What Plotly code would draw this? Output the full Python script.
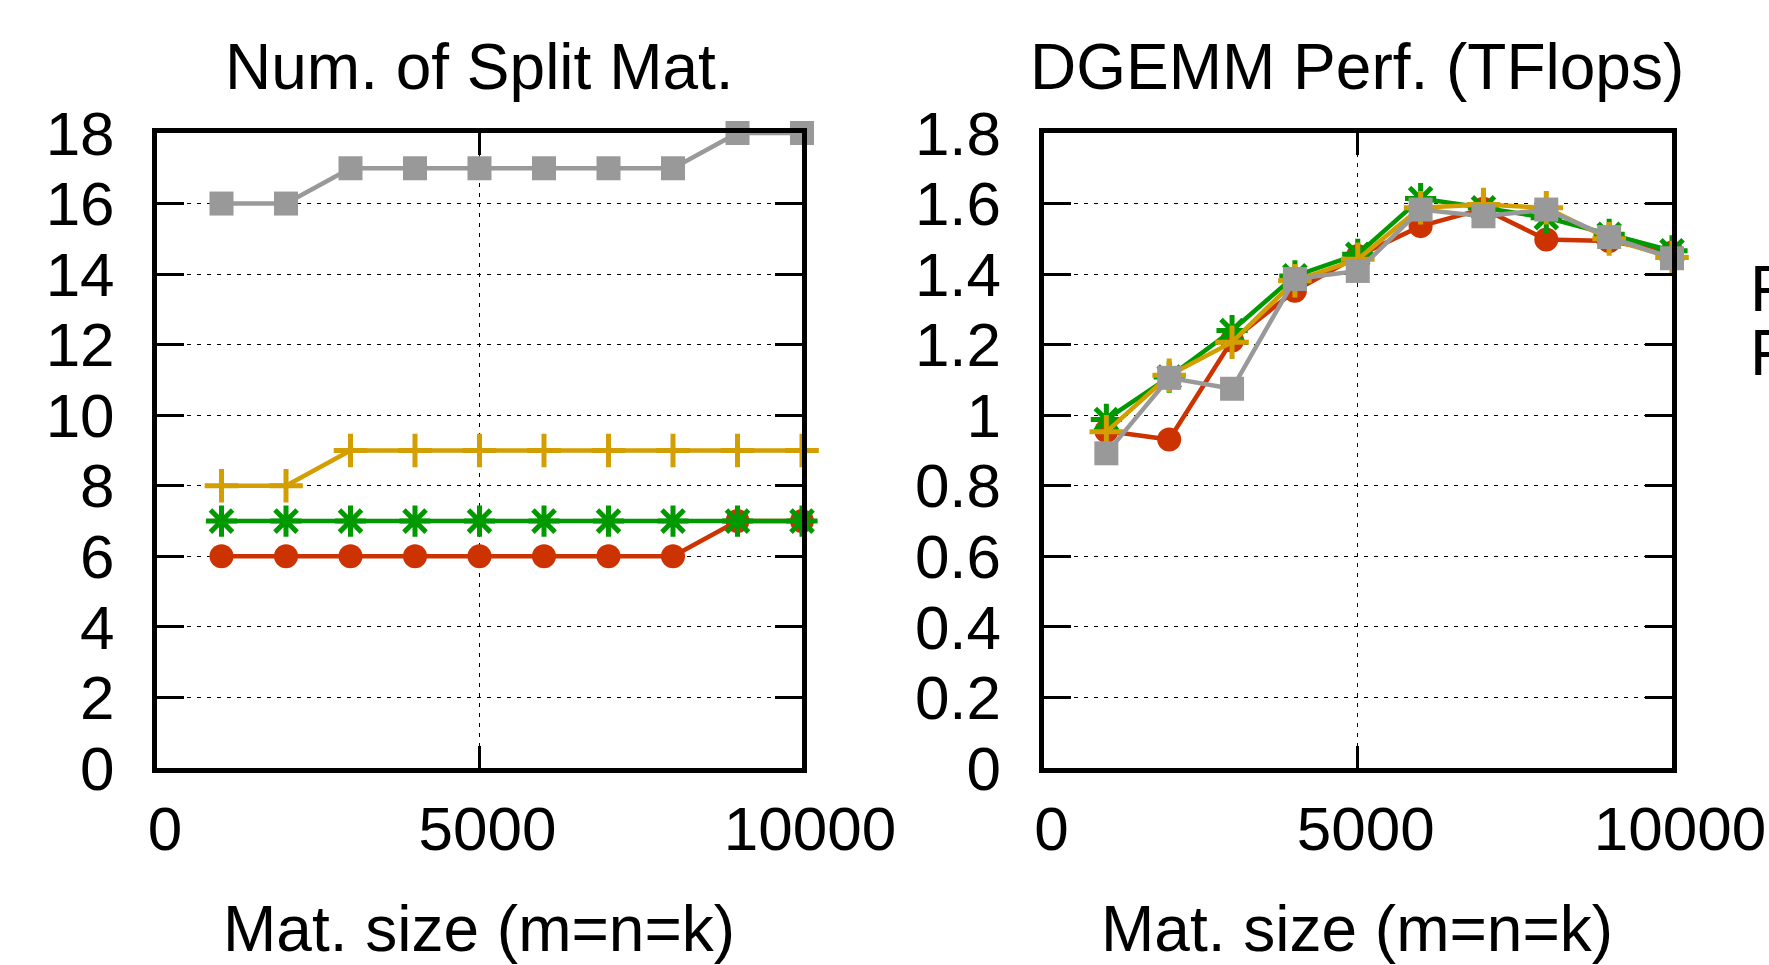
import plotly.graph_objects as go

sizes = [1000, 2000, 3000, 4000, 5000, 6000, 7000, 8000, 9000, 10000]

# Left panel: number of split matrices
split_red = [6, 6, 6, 6, 6, 6, 6, 6, 7, 7]
split_green = [7, 7, 7, 7, 7, 7, 7, 7, 7, 7]
split_yellow = [8, 8, 9, 9, 9, 9, 9, 9, 9, 9]
split_gray = [16, 16, 17, 17, 17, 17, 17, 17, 18, 18]

# Right panel: DGEMM performance (TFlops)
perf_red = [0.955, 0.931, 1.212, 1.353, 1.451, 1.536, 1.585, 1.498, 1.494, 1.461]
perf_green = [0.988, 1.108, 1.240, 1.395, 1.456, 1.614, 1.588, 1.560, 1.513, 1.466]
perf_yellow = [0.953, 1.113, 1.207, 1.381, 1.442, 1.588, 1.597, 1.588, 1.500, 1.447]
perf_gray = [0.892, 1.106, 1.075, 1.386, 1.409, 1.583, 1.564, 1.583, 1.505, 1.445]

x_tickvals = [0, 5000, 10000]
x_ticktext = ["0", "5000", "10000"]
panel_titles = ["Num. of Split Mat.", "DGEMM Perf. (TFlops)"]
x_title = "Mat. size (m=n=k)"
legend_fragments = ["F", "F"]

RED = "#cc3300"
GREEN = "#009900"
YELLOW = "#d29e00"
GRAY = "#999999"
FONT = "Liberation Sans, Arial, Helvetica, sans-serif"
FS_TICK = 62
FS_TITLE = 64

fig = go.Figure()

def add_series(x, y, color, symbol, size, xa, ya, mline=0):
    fig.add_trace(go.Scatter(
        x=x, y=y, mode="lines+markers", xaxis=xa, yaxis=ya,
        line=dict(color=color, width=4.5),
        marker=dict(symbol=symbol, size=size, color=color,
                    line=dict(color=color, width=mline)),
        cliponaxis=False, showlegend=False))

for xa, ya, r, g, yl, gr in [("x", "y", split_red, split_green, split_yellow, split_gray),
                              ("x2", "y2", perf_red, perf_green, perf_yellow, perf_gray)]:
    add_series(sizes, r, RED, "circle", 24, xa, ya)
    add_series(sizes, g, GREEN, "asterisk-open", 26, xa, ya, mline=5)
    add_series(sizes, yl, YELLOW, "cross-thin-open", 24, xa, ya, mline=5)
    add_series(sizes, gr, GRAY, "square", 24, xa, ya)

W, H = 1769, 965
LW = 5
def px(v):
    return v / W
def py(v):
    return 1 - v / H

top, bottom = 130.5 + LW / 2, 770.5 - LW / 2
xdom1 = [px(154.5 + LW / 2), px(804.5 - LW / 2)]
xdom2 = [px(1041 + LW / 2), px(1674.5 - LW / 2)]
ydom = [py(bottom), py(top)]

common_x = dict(range=[0, 10000], tickvals=x_tickvals, ticktext=x_ticktext, showline=True,
                mirror="ticks", linewidth=LW, linecolor="black", ticks="inside", ticklen=22,
                tickwidth=3, tickcolor="black", showgrid=True, gridcolor="black", gridwidth=1,
                griddash="4px,6px", zeroline=False, ticklabelshift=8, ticklabelstandoff=3,
                ticklabeloverflow="allow", automargin=False,
                tickfont=dict(family=FONT, size=FS_TICK, color="black"))
common_y = dict(showline=True, mirror="ticks", linewidth=LW, linecolor="black",
                ticks="inside", ticklen=27, tickwidth=3, tickcolor="black",
                showgrid=True, gridcolor="black", gridwidth=1, griddash="4px,6px",
                zeroline=False, ticklabelstandoff=25, automargin=False,
                tickfont=dict(family=FONT, size=FS_TICK, color="black"))

fig.update_layout(
    width=W, height=H, margin=dict(l=0, r=0, t=0, b=0, autoexpand=False),
    paper_bgcolor="white", plot_bgcolor="white",
    font=dict(family=FONT, size=FS_TICK, color="black"),
    xaxis=dict(domain=xdom1, anchor="y", **common_x),
    yaxis=dict(domain=ydom, anchor="x", range=[0, 18], dtick=2, **common_y),
    xaxis2=dict(domain=xdom2, anchor="y2", **common_x),
    yaxis2=dict(domain=ydom, anchor="x2", range=[0, 1.8], dtick=0.2, **common_y),
)

annotations = [
    dict(text=panel_titles[0], x=px(480), y=py(67)),
    dict(text=panel_titles[1], x=px(1357), y=py(67)),
    dict(text=x_title, x=px(479), y=py(929)),
    dict(text=x_title, x=px(1357), y=py(929)),
]
for a in annotations:
    a.update(xref="paper", yref="paper", showarrow=False, xanchor="center", yanchor="middle",
             font=dict(family=FONT, size=FS_TITLE, color="black"))
for txt, yy in zip(legend_fragments, [289, 353]):
    annotations.append(dict(text=txt, x=px(1748), y=py(yy), xref="paper", yref="paper",
                            showarrow=False, xanchor="left", yanchor="middle",
                            font=dict(family=FONT, size=64, color="black")))
fig.update_layout(annotations=annotations)

fig.write_html("out.html", config={"displayModeBar": False},
               post_script="document.body.style.margin='0';document.body.style.overflow='hidden';")
